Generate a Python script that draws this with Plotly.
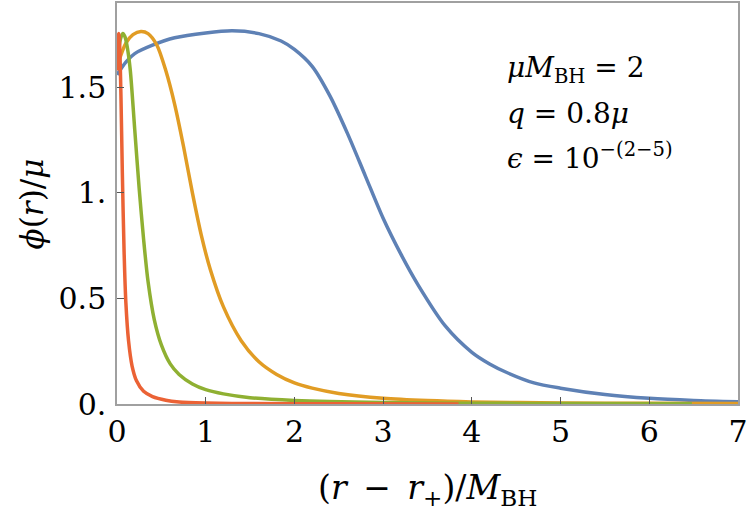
import plotly.graph_objects as go

# ---- data ----
blue_x = [0, 0.1, 0.2, 0.4, 0.65, 1.0, 1.3, 1.6, 1.85, 2.0, 2.2, 2.4, 2.6, 2.8, 3.0, 3.2, 3.4, 3.7, 4.0, 4.2, 4.4, 4.7, 5.0, 5.5, 6.0, 6.5, 7.0]
blue_y = [1.56, 1.62, 1.66, 1.70, 1.735, 1.758, 1.768, 1.755, 1.72, 1.68, 1.60, 1.46, 1.28, 1.08, 0.88, 0.71, 0.56, 0.37, 0.245, 0.19, 0.148, 0.10, 0.075, 0.045, 0.027, 0.017, 0.011]

orange_x = [0, 0.05, 0.1, 0.18, 0.27, 0.35, 0.45, 0.55, 0.65, 0.75, 0.85, 0.95, 1.05, 1.2, 1.4, 1.6, 1.8, 2.0, 2.2, 2.5, 3.0, 3.5, 4.0, 5.0, 6.0, 7.0]
orange_y = [1.60, 1.66, 1.71, 1.75, 1.765, 1.755, 1.70, 1.58, 1.42, 1.22, 1.00, 0.80, 0.64, 0.46, 0.30, 0.20, 0.14, 0.10, 0.075, 0.05, 0.027, 0.016, 0.01, 0.005, 0.003, 0.002]

green_x = [0, 0.02, 0.04, 0.065, 0.09, 0.12, 0.15, 0.2, 0.25, 0.3, 0.35, 0.42, 0.5, 0.6, 0.7, 0.85, 1.0, 1.2, 1.5, 2.0, 3.0, 4.0, 5.0, 6.48]
green_y = [1.60, 1.68, 1.73, 1.755, 1.74, 1.68, 1.58, 1.30, 1.02, 0.78, 0.58, 0.40, 0.28, 0.19, 0.14, 0.095, 0.068, 0.048, 0.03, 0.017, 0.007, 0.004, 0.002, 0.001]

red_x = [0, 0.005, 0.012, 0.02, 0.03, 0.045, 0.06, 0.08, 0.1, 0.13, 0.17, 0.22, 0.3, 0.4, 0.55, 0.7, 1.0, 1.5, 2.5, 3.85]
red_y = [1.58, 1.68, 1.74, 1.755, 1.70, 1.45, 1.10, 0.72, 0.48, 0.30, 0.18, 0.11, 0.06, 0.035, 0.018, 0.01, 0.005, 0.002, 0.001, 0.0005]

x_ticks = [0, 1, 2, 3, 4, 5, 6, 7]
y_ticks = [0, 0.5, 1.0, 1.5]
y_ticklabels = ["0.", "0.5", "1.", "1.5"]

series = [
    (blue_x, blue_y, "#5E81B5"),
    (orange_x, orange_y, "#E19C24"),
    (green_x, green_y, "#8FB032"),
    (red_x, red_y, "#EB6235"),
]

FONT = "DejaVu Serif"

fig = go.Figure()
for xs, ys, c in series:
    fig.add_trace(go.Scatter(x=xs, y=ys, mode="lines",
                             line=dict(color=c, width=3.5, shape="spline", smoothing=0.8),
                             showlegend=False, hoverinfo="skip"))

axis_common = dict(showline=True, linecolor="#A0A0A0", linewidth=1.5, mirror=True,
                   showgrid=False, zeroline=False, ticks="inside", ticklen=7,
                   tickcolor="#555555", tickwidth=1,
                   tickfont=dict(family=FONT, size=30, color="black"))

fig.update_layout(
    width=750, height=521,
    margin=dict(l=117, r=12, t=1, b=117),
    paper_bgcolor="white", plot_bgcolor="white",
    xaxis=dict(range=[0, 7], tickvals=x_ticks, ticktext=[str(v) for v in x_ticks],
               ticklabelstandoff=0, **axis_common),
    yaxis=dict(range=[0, 1.90], tickvals=y_ticks, ticktext=y_ticklabels,
               ticklabelstandoff=3, **axis_common),
    font=dict(family=FONT, color="black"),
)

ann_font = dict(family=FONT, size=31, color="black")
fig.add_annotation(xref="paper", yref="paper", x=-0.137, y=0.5, textangle=-90,
                   text="<i>ϕ</i>(<i>r</i>)/<i>μ</i>", showarrow=False,
                   xanchor="center", yanchor="middle", font=ann_font)
fig.add_annotation(xref="paper", yref="paper", x=0.5, y=-0.213,
                   text="(<i>r</i>\u2002−\u2002<i>r</i><sub>+</sub>)/<i>M</i><sub>BH</sub>", showarrow=False,
                   xanchor="center", yanchor="middle", font=dict(family=FONT, size=33, color="black"))

for txt, ypx in [("<i>μM</i><sub>BH</sub> = 2", 68),
                 ("<i>q</i> = 0.8<i>μ</i>", 112),
                 ("<i>ϵ</i> = 10<sup>−(2−5)</sup>", 155)]:
    fig.add_annotation(xref="paper", yref="paper", x=(505 - 117) / 621, y=(404 - ypx) / 403,
                       text=txt, showarrow=False, xanchor="left", yanchor="middle",
                       font=dict(family=FONT, size=28, color="black"))

fig.write_html("out.html")
